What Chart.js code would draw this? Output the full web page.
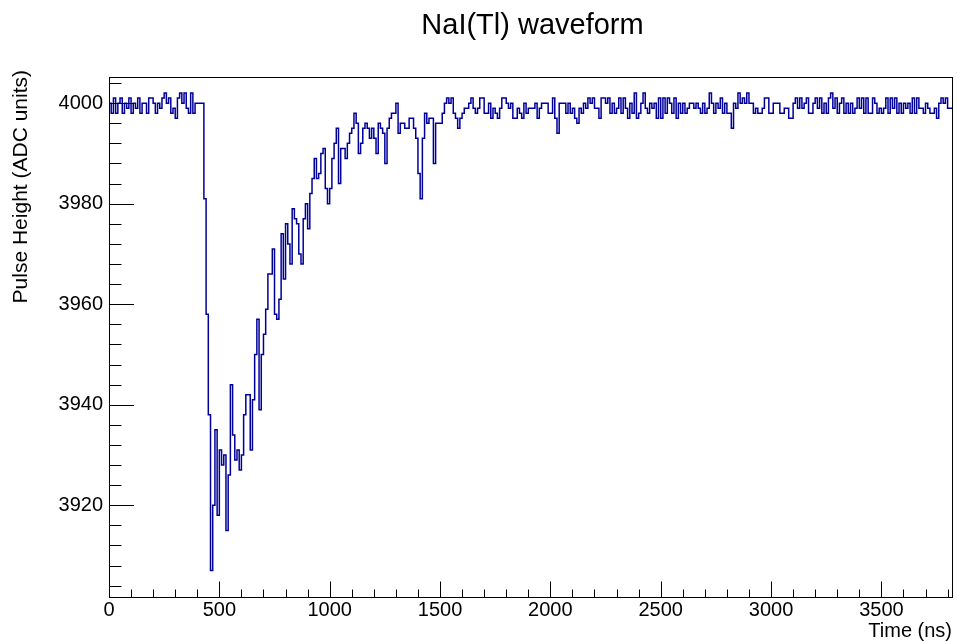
<!DOCTYPE html>
<html lang="en">
<head>
<meta charset="UTF-8">
<title>NaI(Tl) waveform</title>
<style>
  html, body { margin: 0; padding: 0; background: #fff; }
  #wrap { width: 957px; height: 642px; }
</style>
</head>
<body>
<div id="wrap"><canvas id="myChart" width="957" height="642"></canvas></div>
<script src="https://cdn.jsdelivr.net/npm/chart.js"></script>
<script>
// digitizer samples, one value per 10 ns bin (ADC counts)
const binWidth = 10;

// baseline before the trigger, 0 - 430 ns
const preTrigger = [
  3998, 4000, 3998, 4001, 3998, 4000, 4001, 3998, 4000, 3999,
  4001, 3998, 4000, 3999, 4001, 3998, 4000, 4000, 3998, 4001,
  4001, 4000, 3998, 4000, 3999, 4001, 4002, 4000, 4001, 3998,
  3999, 3997, 4001, 4002, 4000, 4002, 3999, 3998, 4002, 3998,
  4000, 4000, 4000, 4000
];

// the pulse and its recovery, 440 - 1670 ns
const pulse = [
  3981, 3958, 3938, 3907, 3920, 3935, 3918, 3931, 3928, 3930,
  3915, 3926, 3944, 3934, 3929, 3931, 3927, 3930, 3938, 3942,
  3942, 3931, 3941, 3950, 3957, 3939, 3950, 3954, 3959, 3966,
  3966, 3971, 3958, 3957, 3961, 3974, 3965, 3976, 3972, 3968,
  3979, 3977, 3976, 3970, 3968, 3977, 3980, 3975, 3982, 3985,
  3989, 3985, 3986, 3990, 3991, 3983, 3980, 3983, 3989, 3992,
  3995, 3984, 3991, 3991, 3989, 3992, 3994, 3995, 3998, 3996,
  3990, 3992, 3995, 3996, 3995, 3993, 3995, 3993, 3990, 3996,
  3995, 3994, 3988, 3995, 3997, 3998, 3998, 4000, 3994, 3996,
  3996, 3995, 3995, 3997, 3997, 3995, 3993, 3986, 3981, 3993,
  3998, 3996, 3997, 3997, 3988, 3996, 3996, 3996, 3998, 4000,
  4001, 4000, 4001, 3998, 3997, 3995, 3997, 3998, 3999, 3999,
  4000, 4001, 3999, 3998
];

// baseline after the pulse, 1680 - 3810 ns
const tail = [
  3999, 4001, 4001, 3998, 3998, 4000, 3997, 3999, 3998, 3997,
  3999, 4001, 4001, 4000, 3999, 4000, 3997, 3997, 3999, 3998,
  3997, 4000, 3998, 3999, 3999, 3999, 4000, 3997, 3999, 4000,
  4000, 4000, 3998, 3998, 4001, 3997, 3994, 4000, 4000, 4000,
  3998, 4000, 3998, 3999, 3997, 3996, 3999, 3998, 4000, 3999,
  4001, 4000, 4001, 3999, 3999, 3997, 4001, 4001, 4000, 4001,
  3998, 4000, 3998, 3999, 4001, 3998, 4001, 3999, 3997, 4000,
  3998, 4002, 3997, 3998, 4000, 4002, 3999, 3998, 4000, 3999,
  4000, 3997, 4001, 3997, 4001, 3998, 4001, 4000, 3998, 4001,
  3997, 4000, 3998, 4000, 3998, 3999, 4000, 4000, 3999, 4000,
  3999, 3998, 4000, 3998, 3999, 4002, 4000, 3998, 4000, 3999,
  4001, 3998, 4000, 3998, 3998, 3995, 4000, 3999, 4002, 4000,
  4001, 4000, 4002, 4000, 4000, 3998, 3999, 3998, 3998, 3999,
  4001, 4001, 3998, 3998, 4000, 4000, 4000, 3998, 3998, 3999,
  3999, 3997, 3997, 4000, 4001, 3999, 4001, 3999, 4000, 4001,
  3998, 3998, 4000, 4001, 3999, 4001, 3998, 4000, 3998, 4001,
  4002, 3999, 4001, 3998, 4000, 4001, 3998, 4000, 3998, 4000,
  3998, 3999, 4001, 3999, 4001, 3998, 4001, 3998, 3998, 4001,
  4000, 3998, 3999, 3998, 3999, 4001, 3998, 4001, 3999, 4001,
  3998, 4000, 3998, 4000, 3999, 4000, 3998, 4001, 3998, 4001,
  3999, 3999, 3998, 4000, 3999, 3998, 3998, 3999, 3997, 4000,
  4001, 4000, 4001, 3999
];

const xTicks = [0, 500, 1000, 1500, 2000, 2500, 3000, 3500];
const yTicks = [3920, 3940, 3960, 3980, 4000];
const xRange = [0, 3820];
const yRange = [3901.75, 4005.2];

const FONT = "'Liberation Sans', Arial, Helvetica, sans-serif";

const adc = preTrigger.concat(pulse, tail);
const points = adc.map((v, i) => ({ x: i * binWidth, y: v }));
// close the last bin
points.push({ x: adc.length * binWidth, y: adc[adc.length - 1] });

// frame, inward ticks (major + minor) and titles, ROOT style
const rootFrame = {
  id: 'rootFrame',
  afterDatasetsDraw(chart) {
    const { ctx, chartArea: a, scales: { x, y } } = chart;
    ctx.save();
    ctx.strokeStyle = '#000';
    ctx.lineWidth = 1;
    ctx.beginPath();
    for (let t = 0; t <= xRange[1]; t += 100) {
      const px = Math.round(x.getPixelForValue(t)) + 0.5;
      const len = t % 500 === 0 ? 15.5 : 7.5;
      ctx.moveTo(px, a.bottom);
      ctx.lineTo(px, a.bottom - len);
    }
    for (let v = 3904; v <= 4004; v += 4) {
      const py = Math.round(y.getPixelForValue(v)) + 0.5;
      const len = v % 20 === 0 ? 25 : 12.5;
      ctx.moveTo(a.left, py);
      ctx.lineTo(a.left + len, py);
    }
    ctx.stroke();
    ctx.strokeRect(a.left + 0.5, a.top + 0.5, a.right - a.left, a.bottom - a.top);

    ctx.fillStyle = '#000';
    ctx.textBaseline = 'alphabetic';
    ctx.font = '29px ' + FONT;
    ctx.textAlign = 'center';
    ctx.fillText('NaI(Tl) waveform', 532.5, 34);

    ctx.font = '20px ' + FONT;
    ctx.textAlign = 'right';
    ctx.fillText('Time (ns)', a.right, 637);

    ctx.translate(27, 70);
    ctx.rotate(-Math.PI / 2);
    ctx.font = '21px ' + FONT;
    ctx.textAlign = 'right';
    ctx.fillText('Pulse Height (ADC units)', 0, 0);
    ctx.restore();
  }
};

const ctx = document.getElementById('myChart');
new Chart(ctx, {
  type: 'line',
  data: {
    datasets: [{
      data: points,
      stepped: 'after',
      borderColor: '#000099',
      borderWidth: 1.5,
      pointRadius: 0,
      fill: false
    }]
  },
  options: {
    responsive: false,
    animation: false,
    events: [],
    devicePixelRatio: 1,
    layout: { padding: { left: 0, right: 5, top: 77, bottom: 0 } },
    plugins: { legend: { display: false }, tooltip: { enabled: false } },
    scales: {
      x: {
        type: 'linear',
        min: xRange[0],
        max: xRange[1],
        grid: { display: false, drawTicks: false },
        border: { display: false },
        ticks: {
          color: '#000', font: { family: FONT, size: 20 }, padding: 1,
          maxRotation: 0, autoSkip: false, callback: (v) => String(v)
        },
        afterBuildTicks: (s) => { s.ticks = xTicks.map(v => ({ value: v })); },
        afterFit: (s) => { s.height = 45; }
      },
      y: {
        type: 'linear',
        min: yRange[0],
        max: yRange[1],
        grid: { display: false, drawTicks: false },
        border: { display: false },
        ticks: {
          color: '#000', font: { family: FONT, size: 20 }, padding: 6,
          autoSkip: false, callback: (v) => String(v)
        },
        afterBuildTicks: (s) => { s.ticks = yTicks.map(v => ({ value: v })); },
        afterFit: (s) => { s.width = 109; }
      }
    }
  },
  plugins: [rootFrame]
});
</script>
</body>
</html>
